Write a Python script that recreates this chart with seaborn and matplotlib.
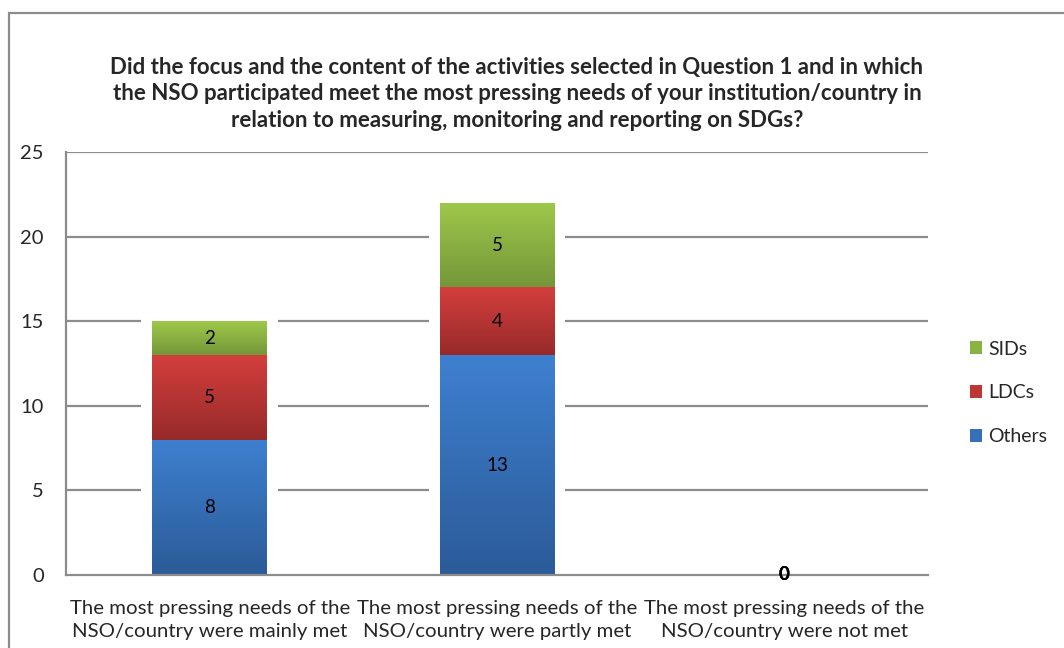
import matplotlib
matplotlib.use("Agg")
import matplotlib.pyplot as plt
import seaborn as sns
import numpy as np
from matplotlib.colors import LinearSegmentedColormap
from matplotlib.patches import Rectangle

categories = [
    "The most pressing needs of the\nNSO/country were mainly met",
    "The most pressing needs of the\nNSO/country were partly met",
    "The most pressing needs of the\nNSO/country were not met",
]
series_names = ["Others", "LDCs", "SIDs"]
others = [8, 13, 0]
ldcs = [5, 4, 0]
sids = [2, 5, 0]
y_ticks = [0, 5, 10, 15, 20, 25]
title = ("Did the focus and the content of the activities selected in Question 1 and in which\n"
         "the NSO participated meet the most pressing needs of your institution/country in\n"
         "relation to measuring, monitoring and reporting on SDGs?")

# (top colour, bottom colour) of the vertical gradient of each series
gradients = {
    "Others": ("#3e80d0", "#2b5b98"),
    "LDCs": ("#d33f3d", "#972a2a"),
    "SIDs": ("#9ec84a", "#74973a"),
}
legend_colors = {"Others": "#3670bb", "LDCs": "#bf3634", "SIDs": "#8ab442"}

sns.set_theme(style="white")
plt.rcParams["font.family"] = ["Lato", "DejaVu Sans"]

fig = plt.figure(figsize=(10.64, 6.48), dpi=100)
ax = fig.add_axes([66 / 1064, (648 - 575) / 648, (928 - 66) / 1064, (575 - 152) / 648])

# outer chart frame (runs off the right and bottom edges)
fig.patches.append(Rectangle((8.5 / 1064, -0.1), 1.2, 1 - 13 / 648 + 0.1,
                             transform=fig.transFigure, fill=False,
                             edgecolor="#8c8c8c", linewidth=1.6, zorder=0))

values = {"Others": others, "LDCs": ldcs, "SIDs": sids}
bottom = np.zeros(len(categories))
segments = []
for name in series_names:
    vals = np.array(values[name], dtype=float)
    sns.barplot(x=categories, y=vals, order=categories, width=0.4,
                color=legend_colors[name], ax=ax, zorder=3)
    cont = ax.containers[-1]
    for i, patch in enumerate(cont.patches):
        patch.set_y(bottom[i])
        patch.set_height(vals[i])
        segments.append((name, patch, bottom[i], vals[i]))
    bottom += vals

halo_pad = 0.038
for name, patch, b, v in segments:
    x0 = patch.get_x()
    w = patch.get_width()
    if v > 0:
        top_c, bot_c = gradients[name]
        cmap = LinearSegmentedColormap.from_list(name, [bot_c, top_c])
        grad = np.linspace(0, 1, 256).reshape(-1, 1)
        im = ax.imshow(grad, extent=[x0, x0 + w, b, b + v], origin="lower",
                       aspect="auto", cmap=cmap, zorder=3, interpolation="bilinear")
        im.set_clip_path(patch)
        patch.set_facecolor("none")
        patch.set_edgecolor("none")
        # white glow around the bar that interrupts the gridlines
        ax.add_patch(Rectangle((x0 - halo_pad, b), w + 2 * halo_pad, v + 0.3,
                               facecolor="white", edgecolor="none", zorder=2))
    ax.text(x0 + w / 2, b + v / 2, f"{int(v)}", ha="center", va="center",
            fontsize=13.5, color="black", zorder=5,
            fontweight="bold" if v == 0 else "normal")

if ax.get_legend() is not None:
    ax.get_legend().remove()

ax.set_xlim(-0.5, 2.5)
ax.set_ylim(0, 25)
ax.set_yticks(y_ticks)
ax.set_yticklabels([str(t) for t in y_ticks], fontsize=14.5)
ax.set_xticks(range(len(categories)))
ax.set_xticklabels(categories, fontsize=14.7, linespacing=1.42)
ax.set_xlabel("")
ax.set_ylabel("")

grid_color = "#8c8c8c"
for t in y_ticks[1:]:
    ax.axhline(t, color=grid_color, linewidth=1.6, zorder=1)
for side in ["top", "right"]:
    ax.spines[side].set_visible(False)
for side in ["left", "bottom"]:
    ax.spines[side].set_color(grid_color)
    ax.spines[side].set_linewidth(1.6)
    ax.spines[side].set_zorder(4)

ax.tick_params(axis="y", length=7, width=1.3, color=grid_color, direction="out", pad=9)
ax.tick_params(axis="x", length=0, pad=18)
# category separator ticks
ax.set_xticks([-0.5, 0.5, 1.5, 2.5], minor=True)
ax.tick_params(axis="x", which="minor", length=7, width=1.3, color=grid_color, direction="out")

handles = [Rectangle((0, 0), 1, 1, facecolor=legend_colors[n], edgecolor="none")
           for n in ["SIDs", "LDCs", "Others"]]
fig.legend(handles, ["SIDs", "LDCs", "Others"], loc="center left",
           bbox_to_anchor=(952 / 1064, 1 - 393 / 648), frameon=False,
           fontsize=14, handlelength=0.65, handleheight=0.65, handletextpad=0.3,
           labelspacing=1.38)

fig.text(517 / 1064, 1 - 94 / 648, title, ha="center", va="center",
         fontsize=16, fontweight="bold", linespacing=1.3)

fig.savefig("out.png", dpi=100, facecolor="white")
